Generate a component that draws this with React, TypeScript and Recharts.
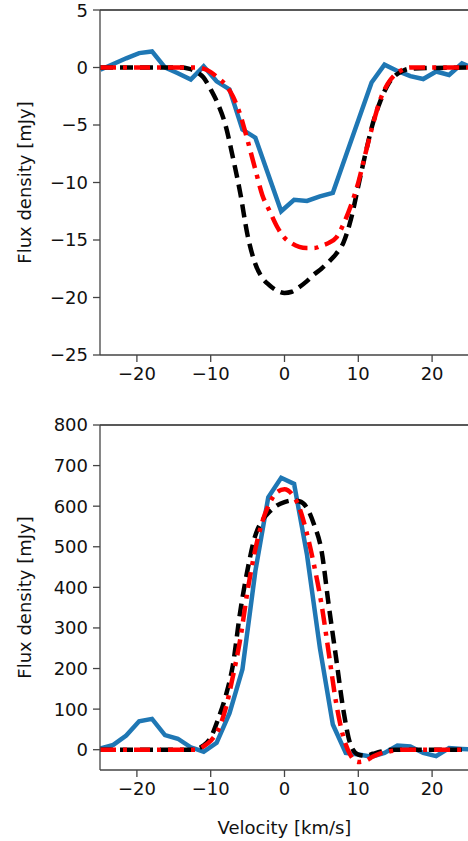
import React from 'react';
import { LineChart, Line, XAxis, YAxis, ReferenceLine, Label } from 'recharts';

// observed channels (km/s)
const velocity = [
    -24.95, -23.2, -21.45, -19.7, -17.95, -16.2, -14.45, -12.7, -10.95, -9.2,
    -7.45, -5.7, -3.95, -2.2, -0.45, 1.3, 3.05, 4.8, 6.55, 8.3,
    10.05, 11.8, 13.55, 15.3, 17.05, 18.8, 20.55, 22.3, 24.05, 25.8,
];
const obsAbsorption = [
    -0.2, 0.3, 0.8, 1.25, 1.4, 0.0, -0.5, -1.05, 0.1, -1.2,
    -1.9, -5.4, -6.1, -9.3, -12.5, -11.5, -11.6, -11.2, -10.9, -7.7,
    -4.5, -1.3, 0.25, -0.3, -0.75, -1.0, -0.35, -0.65, 0.35, -0.1,
];
const obsEmission = [
    3, 12, 35, 70, 76, 36, 27, 6, -5, 17,
    90, 198, 440, 622, 670, 655, 480, 250, 62, -8,
    -12, -17, -8, 10, 8, -8, -16, 4, 2, 0,
];

// model grid (km/s)
const modelVelocity = [
    -25, -14, -13, -12, -11, -10, -9, -8, -7, -6, -5, -4, -3, -2, -1, 0, 1,
    2, 3, 4, 5, 6, 7, 8, 9, 10, 11, 12, 13, 14, 15, 16, 17, 25,
];
const absModelRed = [
    0, 0, 0, 0, -0.1, -0.4, -0.9, -1.5, -2.5, -4.1, -6.35, -8.75, -11.1, -12.5, -13.85, -14.8, -15.3,
    -15.6, -15.7, -15.7, -15.5, -15.25, -14.8, -13.6, -12.0, -10.0, -7.4, -4.9, -2.75, -1.4, -0.6, -0.2, 0, 0,
];
const absModelBlack = [
    0, 0, -0.1, -0.35, -0.85, -1.9, -3.2, -5.0, -7.8, -10.9, -14.6, -17.0, -18.3, -18.95, -19.4, -19.6, -19.5,
    -19.1, -18.6, -18.0, -17.5, -16.9, -16.2, -15.2, -13.2, -10.3, -7.4, -4.8, -2.9, -1.5, -0.7, -0.3, -0.1, 0,
];
const emModelRed = [
    0, 0, 0, 0, 8, 22, 48, 100, 180, 272, 392, 490, 562, 608, 635, 642, 630,
    597, 535, 455, 360, 238, 115, 30, -15, -30, -27, -17, -9, -5, -2, 0, 0, 0,
];
const emModelBlack = [
    0, 0, 0, 2, 10, 30, 75, 130, 208, 340, 444, 525, 565, 587, 602, 610, 614,
    612, 597, 555, 492, 355, 225, 95, 10, -12, -15, -10, -5, -1, 0, 0, 0, 0,
];

const xTicks = [-20, -10, 0, 10, 20];
const absTicks = [-25, -20, -15, -10, -5, 0, 5];
const emTicks = [0, 100, 200, 300, 400, 500, 600, 700, 800];

const toRows = (xs: number[], ys: number[]) => xs.map((v, i) => ({ v, y: ys[i] }));

const FONT = 'DejaVu Sans, sans-serif';
const AXIS = '#444';
const fmt = (v: number) => String(v).replace('-', '\u2212');
const tickStyle = { fill: '#111', fontSize: 18, fontFamily: FONT };

const BLUE = '#1f77b4';

interface PanelProps {
    obs: { v: number; y: number }[];
    red: { v: number; y: number }[];
    black: { v: number; y: number }[];
    yDomain: [number, number];
    yTicks: number[];
    height: number;
    top: number;
    xLabel?: string;
}

const Panel: React.FC<PanelProps> = ({ obs, red, black, yDomain, yTicks, height, top, xLabel }) => (
    <LineChart width={470} height={height} margin={{ top, right: 1, bottom: 0, left: 0 }}>
        <XAxis
            type="number"
            dataKey="v"
            domain={[-25, 25]}
            allowDataOverflow
            ticks={xTicks}
            tickFormatter={fmt}
            tick={tickStyle}
            tickSize={7}
            tickMargin={5}
            stroke={AXIS}
            strokeWidth={1.3}
            height={height - top - 345}
        >
            {xLabel && (
                <Label value={xLabel} position="insideBottom" offset={7} style={{ ...tickStyle, textAnchor: 'middle' }} />
            )}
        </XAxis>
        <YAxis
            type="number"
            domain={yDomain}
            allowDataOverflow
            ticks={yTicks}
            tickFormatter={fmt}
            tick={tickStyle}
            tickSize={7}
            tickMargin={5}
            stroke={AXIS}
            strokeWidth={1.3}
            width={100}
        >
            <Label value="Flux density [mJy]" angle={-90} position="center" dx={-25} style={{ ...tickStyle, textAnchor: 'middle' }} />
        </YAxis>
        <ReferenceLine y={yDomain[1]} stroke="#222" strokeWidth={1.3} />
        <Line data={obs} dataKey="y" type="linear" stroke={BLUE} strokeWidth={4.5} dot={false} activeDot={false} isAnimationActive={false} />
        <Line data={black} dataKey="y" type="monotone" stroke="#000" strokeWidth={4.5} strokeDasharray="13 7" dot={false} activeDot={false} isAnimationActive={false} />
        <Line data={red} dataKey="y" type="monotone" stroke="#ff0000" strokeWidth={4.5} strokeDasharray="16 7 4 7" dot={false} activeDot={false} isAnimationActive={false} />
    </LineChart>
);

export default function App() {
    return (
        <div style={{ position: 'absolute', left: 0, top: 0, width: 468, height: 841, overflow: 'hidden', background: '#fff' }}>
            <Panel
                obs={toRows(velocity, obsAbsorption)}
                red={toRows(modelVelocity, absModelRed)}
                black={toRows(modelVelocity, absModelBlack)}
                yDomain={[-25, 5]}
                yTicks={absTicks}
                height={400}
                top={10}
            />
            <Panel
                obs={toRows(velocity, obsEmission)}
                red={toRows(modelVelocity, emModelRed)}
                black={toRows(modelVelocity, emModelBlack)}
                yDomain={[-50, 800]}
                yTicks={emTicks}
                height={441}
                top={25}
                xLabel="Velocity [km/s]"
            />
        </div>
    );
}
